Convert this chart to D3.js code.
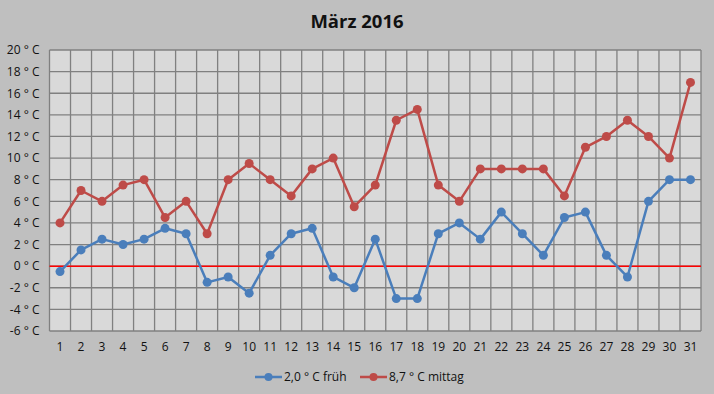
<!DOCTYPE html>
<meta charset="utf-8">
<style>
  body { margin: 0; background: #bfbfbf; }
  svg { display: block; }
  text { font-family: "Open Sans", "Liberation Sans", sans-serif; fill: #111; }
  .title { font-size: 18.5px; font-weight: bold; text-anchor: middle; }
  .tick text { font-size: 12px; }
  .legend text { font-size: 12px; }
</style>
<svg width="714" height="394"></svg>
<script src="https://cdnjs.cloudflare.com/ajax/libs/d3/7.8.5/d3.min.js"></script>
<script>
// days of March
var days = d3.range(1, 32);
// morning temperatures (früh)
var frueh = [-0.5, 1.5, 2.5, 2, 2.5, 3.5, 3, -1.5, -1, -2.5, 1, 3, 3.5, -1, -2, 2.5,
             -3, -3, 3, 4, 2.5, 5, 3, 1, 4.5, 5, 1, -1, 6, 8, 8];
// midday temperatures (mittag)
var mittag = [4, 7, 6, 7.5, 8, 4.5, 6, 3, 8, 9.5, 8, 6.5, 9, 10, 5.5, 7.5,
              13.5, 14.5, 7.5, 6, 9, 9, 9, 9, 6.5, 11, 12, 13.5, 12, 10, 17];
var yTicks = d3.range(-6, 21, 2);
var seriesNames = ["2,0 ° C früh", "8,7 ° C mittag"];
var colors = ["#4a7ebb", "#be4b48"];

var svg = d3.select("svg"),
    width = +svg.attr("width"),
    height = +svg.attr("height");

var margin = {top: 50, right: 13, bottom: 63, left: 49.5};
var plotW = width - margin.left - margin.right,
    plotH = height - margin.top - margin.bottom;

var x = d3.scaleBand().domain(days).range([0, plotW]);
var y = d3.scaleLinear().domain([-6, 20]).range([plotH, 0]);

svg.append("text").attr("class", "title")
    .attr("x", 357).attr("y", 28).text("März 2016");

var g = svg.append("g").attr("transform", "translate(" + margin.left + "," + margin.top + ")");

// plot background
g.append("rect").attr("width", plotW).attr("height", plotH).attr("fill", "#d9d9d9");

// horizontal grid
g.selectAll(".hgrid").data(yTicks).enter().append("line")
    .attr("x1", 0).attr("x2", plotW)
    .attr("y1", function(d) { return y(d); }).attr("y2", function(d) { return y(d); })
    .attr("stroke", "#808080").attr("stroke-width", 1.3);

// vertical grid at category boundaries
g.selectAll(".vgrid").data(days.concat([32])).enter().append("line")
    .attr("x1", function(d) { return d <= 31 ? x(d) : plotW; })
    .attr("x2", function(d) { return d <= 31 ? x(d) : plotW; })
    .attr("y1", 0).attr("y2", plotH)
    .attr("stroke", "#808080").attr("stroke-width", 1.3);

// zero line
g.append("line").attr("x1", 0).attr("x2", plotW)
    .attr("y1", y(0)).attr("y2", y(0))
    .attr("stroke", "#ff0000").attr("stroke-width", 1.5);

// axes (labels only)
var yAxis = g.append("g")
    .call(d3.axisLeft(y).tickValues(yTicks).tickSize(0).tickPadding(10)
      .tickFormat(function(d) { return d + " ° C"; }));
yAxis.select(".domain").remove();

var xAxis = g.append("g").attr("transform", "translate(0," + plotH + ")")
    .call(d3.axisBottom(x).tickSize(0).tickPadding(11));
xAxis.select(".domain").remove();

var line = d3.line()
    .x(function(d, i) { return x(days[i]) + x.bandwidth() / 2; })
    .y(function(d) { return y(d); });

[frueh, mittag].forEach(function(data, k) {
  g.append("path").datum(data)
      .attr("d", line).attr("fill", "none")
      .attr("stroke", colors[k]).attr("stroke-width", 2.5)
      .attr("stroke-linejoin", "round");
  g.selectAll(".dot" + k).data(data).enter().append("circle")
      .attr("cx", function(d, i) { return x(days[i]) + x.bandwidth() / 2; })
      .attr("cy", function(d) { return y(d); })
      .attr("r", 4.5).attr("fill", colors[k]);
});

// legend
var legend = svg.append("g").attr("class", "legend");
var legX = [255, 360];
seriesNames.forEach(function(name, k) {
  var lg = legend.append("g").attr("transform", "translate(" + legX[k] + ",377)");
  lg.append("line").attr("x1", 0).attr("x2", 27)
      .attr("stroke", colors[k]).attr("stroke-width", 2.5);
  lg.append("circle").attr("cx", 13.5).attr("r", 4).attr("fill", colors[k]);
  lg.append("text").attr("x", 29).attr("dy", "0.35em").text(name);
});
</script>
